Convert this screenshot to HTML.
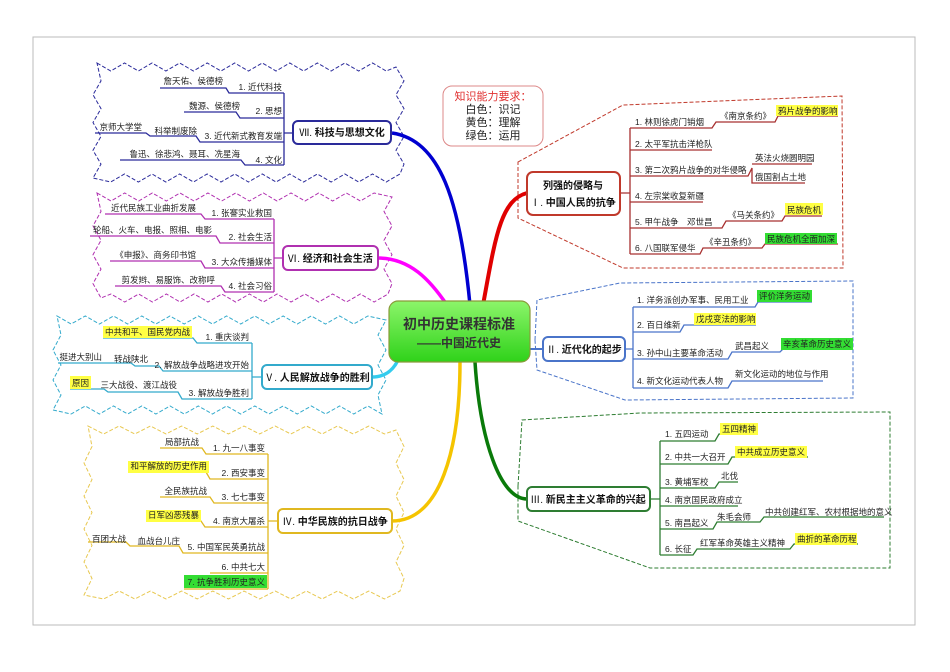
<!DOCTYPE html>
<html><head><meta charset="utf-8"><style>
html,body{margin:0;padding:0;background:#fff;width:950px;height:672px;overflow:hidden}
svg{display:block}
text{font-family:"Liberation Sans","Noto Sans CJK SC",sans-serif;font-size:8.5px;fill:#222}
.b{font-weight:bold;font-size:10px;fill:#111}
</style></head><body>
<svg id="s" width="950" height="672" viewBox="0 0 950 672" xmlns="http://www.w3.org/2000/svg">
<defs>
<linearGradient id="g" x1="0" y1="0" x2="0" y2="1"><stop offset="0" stop-color="#8cf56a"/><stop offset="1" stop-color="#2fd21a"/></linearGradient>
</defs>
<rect x="33" y="37" width="882" height="588" fill="none" stroke="#bbb" stroke-width="1"/>
<g id="waves"></g>

<!-- right dashed regions -->
<path d="M518,162 L623,105 L842,96 L843,268 L623,268 L518,218 Z" fill="none" stroke="#c0392b" stroke-width="1" stroke-dasharray="4,2"/>
<path d="M535,340 L537,300 L620,283 L853,281 L853,398 L625,400 L537,370 Z" fill="none" stroke="#4a74c9" stroke-width="1" stroke-dasharray="4,2"/>
<path d="M518,486 L522,420 L640,413 L890,412 L890,568 L650,568 L518,521 Z" fill="none" stroke="#2e7d32" stroke-width="1" stroke-dasharray="4,2"/>

<!-- curves -->
<path d="M483,305 C495,240 500,200 527,193" fill="none" stroke="#e00000" stroke-width="4"/>
<path d="M470,305 C460,200 440,140 392,133" fill="none" stroke="#0000d0" stroke-width="3.5"/>
<path d="M447,305 C430,280 410,258 378,258" fill="none" stroke="#ff00ff" stroke-width="3.5"/>
<path d="M400,355 C395,370 385,377 372,377" fill="none" stroke="#33ccee" stroke-width="3.5"/>
<path d="M460,362 C460,450 440,521 392,521" fill="none" stroke="#f5c400" stroke-width="3.5"/>
<path d="M475,362 C480,440 500,499 527,499" fill="none" stroke="#0a7a0a" stroke-width="3.5"/>
<path d="M530,349 L543,349" fill="none" stroke="#4a74c9" stroke-width="2"/>

<!-- center -->
<rect x="389" y="301" width="141" height="61" rx="9" fill="url(#g)" stroke="#8a9a3a" stroke-width="1.2"/>
<text x="459" y="329" text-anchor="middle" style="font-size:14px;font-weight:bold;fill:#333">初中历史课程标准</text>
<text x="459" y="347" text-anchor="middle" style="font-size:12px;font-weight:bold;fill:#333">——中国近代史</text>

<!-- knowledge box -->
<rect x="443" y="86" width="100" height="60" rx="9" fill="#fff" stroke="#d88" stroke-width="1"/>
<text x="493" y="100" text-anchor="middle" style="font-size:11px;fill:#e03030">知识能力要求：</text>
<text x="493" y="113" text-anchor="middle" style="font-size:11px">白色：识记</text>
<text x="493" y="126" text-anchor="middle" style="font-size:11px">黄色：理解</text>
<text x="493" y="139" text-anchor="middle" style="font-size:11px">绿色：运用</text>

<!-- I -->
<g stroke="#a83030" fill="none" stroke-width="1.3">
<path d="M620,193 L630,193 M630,128 L630,254"/>
<path d="M630,128 L712,128 L716,122 L775,122 L778,116 L838,116"/>
<path d="M630,150 L712,150"/>
<path d="M630,176 L748,176 L752,168 L752,183 L805,183 M752,164 L812,164"/>
<path d="M630,202 L703,202"/>
<path d="M630,228 L722,228 L726,221 L782,221 L785,216 L822,216"/>
<path d="M630,254 L700,254 L703,248 L762,248 L765,244 L838,244"/>
</g>
<rect x="527" y="172" width="93" height="43" rx="6" fill="#fff" stroke="#c0392b" stroke-width="2"/>
<text x="573" y="189" text-anchor="middle" class="b">列强的侵略与</text>
<text x="573" y="206" text-anchor="middle" class="b"><tspan style="font-weight:normal">Ⅰ.</tspan> 中国人民的抗争</text>
<rect x="776" y="105" width="62" height="11" fill="#ffff44"/>
<rect x="785" y="203" width="38" height="12" fill="#ffff44"/>
<rect x="765" y="233" width="72" height="11" fill="#33dd33"/>
<text x="635" y="125">1. 林则徐虎门销烟</text>
<text x="720" y="119">《南京条约》</text>
<text x="778" y="114">鸦片战争的影响</text>
<text x="635" y="147">2. 太平军抗击洋枪队</text>
<text x="635" y="173">3. 第二次鸦片战争的对华侵略</text>
<text x="755" y="161">英法火烧圆明园</text>
<text x="755" y="180">俄国割占土地</text>
<text x="635" y="199">4. 左宗棠收复新疆</text>
<text x="635" y="225">5. 甲午战争　邓世昌</text>
<text x="728" y="218">《马关条约》</text>
<text x="787" y="213">民族危机</text>
<text x="635" y="251">6. 八国联军侵华</text>
<text x="705" y="245">《辛丑条约》</text>
<text x="767" y="242">民族危机全面加深</text>

<!-- II -->
<g stroke="#4a74c9" fill="none" stroke-width="1.3">
<path d="M625,349 L633,349 M633,307 L633,388"/>
<path d="M633,307 L755,307 L758,302 L812,302"/>
<path d="M633,332 L680,332 L684,325 L756,325"/>
<path d="M633,359 L728,359 L732,352 L780,352 L784,348 L853,348"/>
<path d="M633,388 L728,388 L732,381 L823,381"/>
</g>
<rect x="543" y="337" width="82" height="24" rx="5" fill="#fff" stroke="#4a74c9" stroke-width="2"/>
<text x="584" y="353" text-anchor="middle" class="b"><tspan style="font-weight:normal">Ⅱ.</tspan> 近代化的起步</text>
<rect x="757" y="290" width="55" height="12" fill="#33dd33"/>
<rect x="694" y="313" width="62" height="12" fill="#ffff44"/>
<rect x="781" y="338" width="72" height="12" fill="#33dd33"/>
<text x="637" y="303">1. 洋务派创办军事、民用工业</text>
<text x="759" y="299">评价洋务运动</text>
<text x="637" y="328">2. 百日维新</text>
<text x="696" y="322">戊戌变法的影响</text>
<text x="637" y="356">3. 孙中山主要革命活动</text>
<text x="735" y="349">武昌起义</text>
<text x="783" y="347">辛亥革命历史意义</text>
<text x="637" y="384">4. 新文化运动代表人物</text>
<text x="735" y="377">新文化运动的地位与作用</text>

<!-- III -->
<g stroke="#2e7d32" fill="none" stroke-width="1.3">
<path d="M650,499 L660,499 M660,441 L660,555"/>
<path d="M660,441 L715,441 L719,434 L758,434"/>
<path d="M660,464 L728,464 L732,457 L808,457"/>
<path d="M660,488 L715,488 L719,482 L738,482"/>
<path d="M660,506 L738,506"/>
<path d="M660,529 L713,529 L717,522 L760,522 L764,517 L884,517"/>
<path d="M660,555 L693,555 L697,549 L790,549 L794,544 L858,544"/>
</g>
<rect x="527" y="487" width="123" height="24" rx="5" fill="#fff" stroke="#2e7d32" stroke-width="2"/>
<text x="588" y="503" text-anchor="middle" class="b"><tspan style="font-weight:normal">Ⅲ.</tspan> 新民主主义革命的兴起</text>
<rect x="720" y="423" width="38" height="12" fill="#ffff44"/>
<rect x="735" y="446" width="72" height="12" fill="#ffff44"/>
<rect x="795" y="533" width="62" height="12" fill="#ffff44"/>
<text x="665" y="437">1. 五四运动</text>
<text x="722" y="432">五四精神</text>
<text x="665" y="460">2. 中共一大召开</text>
<text x="737" y="455">中共成立历史意义</text>
<text x="665" y="485">3. 黄埔军校</text>
<text x="721" y="479">北伐</text>
<text x="665" y="503">4. 南京国民政府成立</text>
<text x="665" y="526">5. 南昌起义</text>
<text x="717" y="520">朱毛会师</text>
<text x="765" y="515">中共创建红军、农村根据地的意义</text>
<text x="665" y="552">6. 长征</text>
<text x="700" y="546">红军革命英雄主义精神</text>
<text x="797" y="542">曲折的革命历程</text>

<!-- VII -->
<g stroke="#2a2a9a" fill="none" stroke-width="1.3">
<path d="M293,133 L284,133 M284,93 L284,165"/>
<path d="M284,93 L229,93 L226,88 L160,88"/>
<path d="M284,118 L240,118 L236,112 L184,112"/>
<path d="M284,142 L200,142 L196,136 L150,136 L146,133 L95,133"/>
<path d="M284,165 L245,165 L241,160 L120,160"/>
</g>
<rect x="293" y="121" width="98" height="23" rx="5" fill="#fff" stroke="#2a2a9a" stroke-width="2"/>
<text x="342" y="136" text-anchor="middle" class="b"><tspan style="font-weight:normal">Ⅶ.</tspan> 科技与思想文化</text>
<g text-anchor="end">
<text x="282" y="90">1. 近代科技</text>
<text x="223" y="84">詹天佑、侯德榜</text>
<text x="282" y="114">2. 思想</text>
<text x="240" y="109">魏源、侯德榜</text>
<text x="282" y="139">3. 近代新式教育发端</text>
<text x="197" y="134">科举制废除</text>
<text x="142" y="130">京师大学堂</text>
<text x="282" y="163">4. 文化</text>
<text x="240" y="157">鲁迅、徐悲鸿、聂耳、冼星海</text>
</g>

<!-- VI -->
<g stroke="#b030b0" fill="none" stroke-width="1.3">
<path d="M283,258 L274,258 M274,219 L274,292"/>
<path d="M274,219 L205,219 L201,214 L105,214"/>
<path d="M274,243 L220,243 L216,236 L90,236"/>
<path d="M274,268 L205,268 L201,261 L110,261"/>
<path d="M274,292 L225,292 L221,286 L115,286"/>
</g>
<rect x="283" y="246" width="95" height="24" rx="5" fill="#fff" stroke="#b030b0" stroke-width="2"/>
<text x="330" y="262" text-anchor="middle" class="b"><tspan style="font-weight:normal">Ⅵ.</tspan> 经济和社会生活</text>
<g text-anchor="end">
<text x="272" y="216">1. 张謇实业救国</text>
<text x="196" y="211">近代民族工业曲折发展</text>
<text x="272" y="240">2. 社会生活</text>
<text x="212" y="233">轮船、火车、电报、照相、电影</text>
<text x="272" y="265">3. 大众传播媒体</text>
<text x="196" y="258">《申报》、商务印书馆</text>
<text x="272" y="289">4. 社会习俗</text>
<text x="215" y="283">剪发辫、易服饰、改称呼</text>
</g>

<!-- V -->
<g stroke="#33aacc" fill="none" stroke-width="1.3">
<path d="M262,377 L252,377 M252,343 L252,399"/>
<path d="M252,343 L197,343 L193,338 L103,338"/>
<path d="M252,371 L163,371 L159,366 L135,366 L131,363 L58,363"/>
<path d="M252,399 L182,399 L178,392 L108,392 L104,389 L70,389"/>
</g>
<rect x="262" y="365" width="110" height="24" rx="5" fill="#fff" stroke="#33aacc" stroke-width="2"/>
<text x="317" y="381" text-anchor="middle" class="b"><tspan style="font-weight:normal">Ⅴ.</tspan> 人民解放战争的胜利</text>
<rect x="103" y="326" width="89" height="12" fill="#ffff44"/>
<rect x="70" y="376" width="21" height="13" fill="#ffff44"/>
<g text-anchor="end">
<text x="249" y="340">1. 重庆谈判</text>
<text x="190" y="335">中共和平、国民党内战</text>
<text x="249" y="368">2. 解放战争战略进攻开始</text>
<text x="148" y="362">转战陕北</text>
<text x="102" y="360">挺进大别山</text>
<text x="249" y="396">3. 解放战争胜利</text>
<text x="177" y="388">三大战役、渡江战役</text>
<text x="89" y="386">原因</text>
</g>

<!-- IV -->
<g stroke="#e0b820" fill="none" stroke-width="1.3">
<path d="M278,521 L268,521 M268,454 L268,589"/>
<path d="M268,454 L206,454 L202,448 L160,448"/>
<path d="M268,479 L210,479 L206,472 L128,472"/>
<path d="M268,503 L214,503 L210,497 L160,497"/>
<path d="M268,527 L205,527 L201,521 L146,521"/>
<path d="M268,553 L183,553 L179,546 L130,546 L126,542 L88,542"/>
<path d="M268,573 L210,573"/>
<path d="M268,589 L184,589"/>
</g>
<rect x="278" y="509" width="114" height="24" rx="5" fill="#fff" stroke="#e0b820" stroke-width="2"/>
<text x="335" y="525" text-anchor="middle" class="b"><tspan style="font-weight:normal">Ⅳ.</tspan> 中华民族的抗日战争</text>
<rect x="128" y="461" width="81" height="12" fill="#ffff44"/>
<rect x="146" y="510" width="55" height="12" fill="#ffff44"/>
<rect x="184" y="575" width="83" height="13" fill="#33dd33"/>
<g text-anchor="end">
<text x="265" y="451">1. 九一八事变</text>
<text x="199" y="445">局部抗战</text>
<text x="265" y="476">2. 西安事变</text>
<text x="207" y="469">和平解放的历史作用</text>
<text x="265" y="500">3. 七七事变</text>
<text x="207" y="494">全民族抗战</text>
<text x="265" y="524">4. 南京大屠杀</text>
<text x="199" y="518">日军凶恶残暴</text>
<text x="265" y="550">5. 中国军民英勇抗战</text>
<text x="180" y="544">血战台儿庄</text>
<text x="126" y="542">百团大战</text>
<text x="265" y="570">6. 中共七大</text>
<text x="265" y="585">7. 抗争胜利历史意义</text>
</g>
</svg>
<script>
(function(){
var g=document.getElementById('waves');
function wave(x1,y1,x2,y2,color,amp,step){
  var pts=[],i,k=0;
  function edge(ax,ay,bx,by,nx,ny){
    var len=Math.hypot(bx-ax,by-ay),n=Math.max(1,Math.round(len/step));
    for(i=0;i<n;i++){var t=i/n,o=(k++%2?amp:-amp);
      pts.push((ax+(bx-ax)*t+nx*o).toFixed(1)+','+(ay+(by-ay)*t+ny*o).toFixed(1));}
  }
  edge(x1,y1,x2,y1,0,1);edge(x2,y1,x2,y2,1,0);edge(x2,y2,x1,y2,0,1);edge(x1,y2,x1,y1,1,0);
  var p=document.createElementNS('http://www.w3.org/2000/svg','polygon');
  p.setAttribute('points',pts.join(' '));p.setAttribute('fill','none');
  p.setAttribute('stroke',color);p.setAttribute('stroke-width','1');p.setAttribute('stroke-dasharray','4,2');
  g.appendChild(p);
}
wave(97,67,400,178,'#2a2a9a',4,14);
wave(97,197,388,298,'#b030b0',4,14);
wave(57,320,382,410,'#33aacc',4,14);
wave(88,430,400,595,'#e8c850',4,16);
})();
</script>
</body></html>
